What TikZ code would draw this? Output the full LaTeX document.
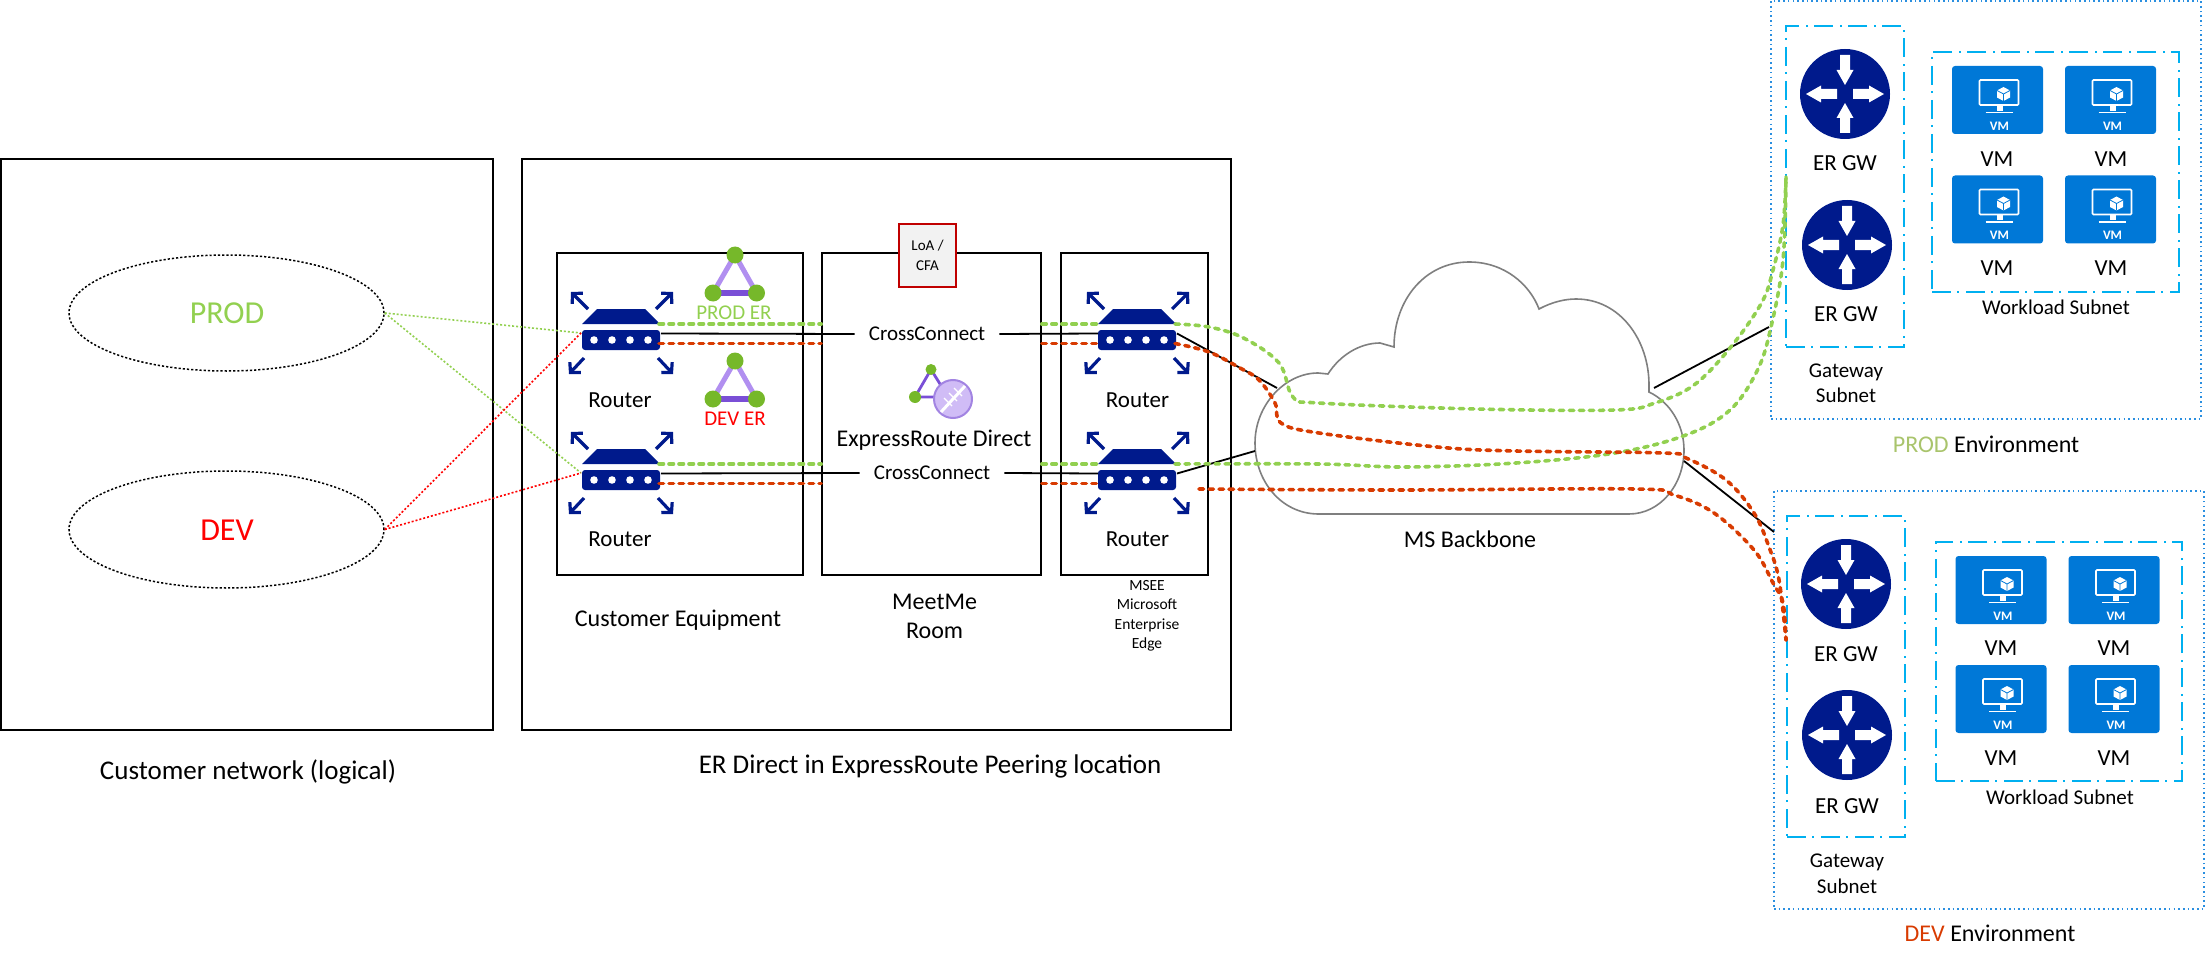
\documentclass[tikz,border=0pt]{standalone}
\usepackage{fontspec}
\setmainfont{Carlito}
\usetikzlibrary{arrows.meta, shapes.geometric}
\definecolor{marino}{HTML}{001A8C}
\definecolor{verde}{HTML}{92D050}
\definecolor{rojo}{HTML}{FF0000}
\definecolor{naranja}{HTML}{D83B01}
\definecolor{oliva}{HTML}{A9C46C}
\definecolor{celeste}{HTML}{00B0F0}
\definecolor{azul}{HTML}{2A8FE0}
\definecolor{azulvm}{HTML}{0078D7}
\definecolor{lila}{HTML}{B18FF0}
\definecolor{violeta}{HTML}{7A4FD6}
\definecolor{brote}{HTML}{76B82A}
\definecolor{nube}{HTML}{7F7F7F}
\definecolor{carmin}{HTML}{C00000}
\tikzset{
	lblhuge/.style={inner sep=0pt, font=\fontsize{27}{32}\selectfont, align=center},
	lblxl/.style={inner sep=0pt, font=\fontsize{24}{29}\selectfont, align=center},
	lbllg/.style={inner sep=0pt, font=\fontsize{23}{29}\selectfont, align=center},
	lblmd/.style={inner sep=0pt, font=\fontsize{21}{25.5}\selectfont, align=center},
	lblxs/.style={inner sep=0pt, font=\fontsize{15.5}{19.5}\selectfont, align=center},
	framebox/.style={draw=black, line width=1.6pt, inner sep=0pt},
	netoval/.style={draw=black, line width=1.5pt, dash pattern=on 2.2pt off 2pt, ellipse, minimum width=315pt, inner sep=0pt},
	envbox/.style={draw=azul, line width=1.6pt, dash pattern=on 1.6pt off 3.1pt, inner sep=0pt},
	subnetbox/.style={draw=celeste, line width=2.2pt, dash pattern=on 19pt off 6pt on 2pt off 7pt, inner sep=0pt},
	blackwire/.style={draw=black, line width=1.8pt},
	grnwire/.style={draw=verde, line width=3.6pt, line cap=round, dash pattern=on 4.5pt off 5.5pt},
	redwire/.style={draw=naranja, line width=3.6pt, line cap=round, dash pattern=on 4.5pt off 5.5pt},
	grnthin/.style={draw=verde, line width=1.6pt, dash pattern=on 2pt off 2pt},
	redthin/.style={draw=rojo, line width=1.6pt, dash pattern=on 2pt off 2pt},
	routerarrow/.style={draw=marino, line width=3.2pt, -{Straight Barb[length=7pt, width=15pt, line width=3.2pt]}},
	routericon/.pic={
		\node[fill=marino, rounded corners=3pt, minimum width=78pt, minimum height=20pt, inner sep=0pt] (-body) at (0,0) {};
		\fill[marino] (-39,-16) -- (-24,-31) -- (24,-31) -- (39,-16) -- cycle;
		\foreach \xdot in {-27,-9,9,27}
			\fill[white] (\xdot,0) circle (3.8pt);
		\draw[routerarrow] (-33,-31) -- (-50,-48);
		\draw[routerarrow] (35,-31) -- (52,-48);
		\draw[routerarrow] (-37,18) -- (-52,34);
		\draw[routerarrow] (37,18) -- (52,34);
		\coordinate (-grnE) at (38,-16);
		\coordinate (-redE) at (38,3.5);
		\coordinate (-wireE) at (40,-6.5);
		\coordinate (-grnW) at (-39,-16);
		\coordinate (-redW) at (-39,3.5);
		\coordinate (-wireW) at (-39,-6.5);
		\coordinate (-tipW) at (-40,-7);
	},
	gwicon/.pic={
		\node[fill=marino, circle, minimum size=90pt, inner sep=0pt] (-disc) at (0,0) {};
		\foreach \ang/\tailr/\tipr in {0/8/39, 180/8/39, 90/39/9, 270/39/9}
			\fill[white, rotate=\ang] (\tailr,-5) -- (24,-5) -- (24,-8.5) -- (\tipr,0) -- (24,8.5) -- (24,5) -- (\tailr,5) -- cycle;
	},
	vmtile/.pic={
		\node[fill=azulvm, rounded corners=3pt, minimum width=91pt, minimum height=68pt, inner sep=0pt] (-tile) at (0,0) {};
		\draw[white, line width=1.6pt, rounded corners=1pt] (-18,-20) rectangle (21,5);
		\fill[white] (-1,5) rectangle (5,11);
		\draw[white, line width=1.6pt] (-12,12.5) -- (15,12.5);
		\fill[white] (6,-13) -- (12.5,-9.5) -- (12.5,-2.5) -- (6,1) -- (-0.5,-2.5) -- (-0.5,-9.5) -- cycle;
		\draw[azulvm, line width=0.8pt] (-0.5,-9.5) -- (6,-6) -- (12.5,-9.5) (6,-6) -- (6,1);
		\node[text=white, inner sep=0pt, font=\bfseries\fontsize{13}{15}\selectfont] at (2,26) {VM};
	},
	ertriangle/.pic={
		\draw[lila, line width=5pt] (-22,38) -- (0,0) -- (21.5,38);
		\draw[violeta, line width=6pt] (-22,38) -- (21.5,38);
		\foreach \xb/\yb in {0/0, -22/38, 21.5/38}
			\fill[brote] (\xb,\yb) circle (8.5pt);
	},
}
\begin{document}
\begin{tikzpicture}[x=1pt, y=-1pt]
	\useasboundingbox (0,0) rectangle (2206,960);
	\node[framebox, minimum width=492pt, minimum height=571pt] (custnet) at (247,444.5) {};
	\node[framebox, minimum width=709pt, minimum height=571pt] (erloc) at (876.5,444.5) {};
	\node[framebox, minimum width=246pt, minimum height=322pt] (custeq) at (680,414) {};
	\node[framebox, minimum width=219pt, minimum height=322pt] (meetme) at (931.5,414) {};
	\node[framebox, minimum width=147pt, minimum height=322pt] (msee) at (1134.5,414) {};
	\node[draw=carmin, fill=black!5, line width=1.6pt, minimum width=57pt, minimum height=63pt, inner sep=0pt, font=\fontsize{15}{20}\selectfont, align=center] (loa) at (927.5,255.5) {LoA /\\CFA};

	\node[netoval, minimum height=116pt] (prodnet) at (226.5,313) {};
	\node[netoval, minimum height=117pt] (devnet) at (226.5,529.5) {};
	\node[inner sep=0pt, text=verde, font=\fontsize{32}{38}\selectfont] (prodlbl) at (227,313) {PROD};
	\node[inner sep=0pt, text=rojo, font=\fontsize{32}{38}\selectfont] (devlbl) at (227,530) {DEV};

	\pic (rtA) at (621,340) {routericon};
	\pic (rtB) at (621,480) {routericon};
	\pic (rtC) at (1137,340) {routericon};
	\pic (rtD) at (1137,480) {routericon};
	\node[lbllg] (rtAlbl) at (620,400) {Router};
	\node[lbllg] (rtBlbl) at (620,539) {Router};
	\node[lbllg] (rtClbl) at (1137.5,400) {Router};
	\node[lbllg] (rtDlbl) at (1137.5,539) {Router};

	\pic at (735,255) {ertriangle};
	\pic at (735,361) {ertriangle};
	\node[lblmd, text=verde] (prodermark) at (734,313) {PROD ER};
	\node[lblmd, text=rojo] (devermark) at (735,419) {DEV ER};

	% icono del puerto directo
	\draw[violeta, line width=2.8pt] (915,397) -- (931,369.5) -- (945,392) (915,397) -- (936,397);
	\fill[brote] (931,369.5) circle (5.5pt) (915,397) circle (6pt);
	\draw[violeta!70, fill=lila!60, line width=2pt] (953,399) circle (19pt);
	\draw[white, line width=3pt] (941,412) -- (965,386);
	\draw[white, line width=1.2pt] (944,398) -- (952,406) (949,393) -- (957,401) (954,388) -- (962,396);

	\node[lblmd, inner xsep=14pt] (ccA) at (927,334) {CrossConnect};
	\node[lblmd, inner xsep=14pt] (ccB) at (932,473) {CrossConnect};
	\node[lblxl] (erdlbl) at (934,440) {ExpressRoute Direct};

	\draw[blackwire] (rtA-wireE) -- (ccA.west);
	\draw[blackwire] (ccA.east) -- (rtC-wireW);
	\draw[blackwire] (rtB-wireE) -- (ccB.west);
	\draw[blackwire] (ccB.east) -- (rtD-wireW);

	\foreach \rtL/\rtR in {rtA/rtC, rtB/rtD} {
		\draw[grnwire] (\rtL-grnE) -- (\rtL-grnE -| meetme.west);
		\draw[grnwire] (\rtR-grnW -| meetme.east) -- (\rtR-grnW);
		\draw[redwire] (\rtL-redE) -- (\rtL-redE -| meetme.west);
		\draw[redwire] (\rtR-redW -| meetme.east) -- (\rtR-redW);
	}

	\draw[grnthin] (prodnet.east) -- (rtA-tipW);
	\draw[grnthin] (prodnet.east) -- (rtB-tipW);
	\draw[redthin] (devnet.east) -- (rtA-tipW);
	\draw[redthin] (devnet.east) -- (rtB-tipW);

	\node[lblxl] (custeqlbl) at (678,620) {Customer Equipment};
	\node[lblxl] (meetlbl) at (934.6,616) {MeetMe\\Room};
	\node[lblxs] (mseelbl) at (1147,616) {MSEE\\Microsoft\\Enterprise\\Edge};
	\node[lblhuge] (custnetlbl) at (248,772) {Customer network (logical)};
	\node[lblhuge] (erloclbl) at (930,766) {ER Direct in ExpressRoute Peering location};

	% nube
	\draw[nube, line width=1.6pt] (1318.6,514) .. controls (1282,514) and (1255,482) .. (1255,443)
		.. controls (1255,405) and (1285,373) .. (1318,373) -- (1328,374)
		.. controls (1340,355) and (1360,343) .. (1380,343) -- (1394,347)
		.. controls (1394,300) and (1425,262) .. (1469,262)
		.. controls (1505,262) and (1530,285) .. (1539,309)
		.. controls (1552,302) and (1565,299) .. (1576,299)
		.. controls (1620,299) and (1649,340) .. (1649,385) -- (1649,392)
		.. controls (1670,402) and (1684,425) .. (1684,450)
		.. controls (1684,485) and (1660,514) .. (1629,514) -- cycle;
	\node[lblxl] (cloudlbl) at (1470,539) {MS Backbone};
	\coordinate (cloudNW) at (1277,388);
	\coordinate (cloudW) at (1255,451);
	\coordinate (cloudNE) at (1654,388);
	\coordinate (cloudE) at (1684,461);
	\coordinate (prodEdge) at (1769,327);
	\coordinate (devEdge) at (1774,532);
	\coordinate (prodEnd) at (1786,177);
	\coordinate (devEnd) at (1786,640);
	\coordinate (redfree) at (1199,489);

	\node[envbox, minimum width=430pt, minimum height=418pt] (prodenv) at (1986,210) {};
	\node[envbox, minimum width=430pt, minimum height=418pt] (devenv) at (1989,700) {};
	\node[subnetbox, minimum width=118pt, minimum height=321pt] (gwprod) at (1845,186.5) {};
	\node[subnetbox, minimum width=118pt, minimum height=321pt] (gwdev) at (1846,676.5) {};
	\node[subnetbox, minimum width=247pt, minimum height=240pt] (wlprod) at (2055.5,172) {};
	\node[subnetbox, minimum width=246pt, minimum height=239pt] (wldev) at (2059,661.5) {};

	\pic (gwA) at (1845,94) {gwicon};
	\pic (gwB) at (1847,245) {gwicon};
	\pic (gwC) at (1846,584) {gwicon};
	\pic (gwD) at (1847,735) {gwicon};
	\node[lbllg] (gwAlbl) at (1845,163) {ER GW};
	\node[lbllg] (gwBlbl) at (1846,314) {ER GW};
	\node[lbllg] (gwClbl) at (1846,654) {ER GW};
	\node[lbllg] (gwDlbl) at (1847,806) {ER GW};
	\node[lblmd] (gwprodlbl) at (1846,383.5) {Gateway\\Subnet};
	\node[lblmd] (gwdevlbl) at (1847,874) {Gateway\\Subnet};

	\foreach \vmx/\vmy [count=\vmi] in {1997.5/100, 2110.5/100, 1997.5/209.5, 2110.5/209.5, 2001/590, 2114/590, 2001/699, 2114/699}
		\pic (vm\vmi) at (\vmx,\vmy) {vmtile};
	\foreach \vmx/\vmy in {1997/159, 2111/159, 1997/268, 2111/268, 2001/648, 2114/648, 2001/758, 2114/758}
		\node[lbllg] at (\vmx,\vmy) {VM};
	\node[lblmd] (wlprodlbl) at (2056,307) {Workload Subnet};
	\node[lblmd] (wldevlbl) at (2060,797) {Workload Subnet};
	\node[lblxl] (prodenvlbl) at (1986,444) {{\color{oliva}PROD} Environment};
	\node[lblxl] (devenvlbl) at (1990,933) {{\color{naranja}DEV} Environment};

	\draw[blackwire] (rtC-wireE) -- (cloudNW);
	\draw[blackwire] (rtD-wireE) -- (cloudW);
	\draw[blackwire] (cloudNE) -- (prodEdge);
	\draw[blackwire] (cloudE) -- (devEdge);

	\draw[grnwire] plot[smooth, tension=0.6] coordinates {(rtC-grnE) (1209,327) (1243.5,338) (1279,363) (1293,397) (1318.6,403) (1477,409) (1615,410) (1655,403) (1694,385) (1730,348) (1761.5,303) (1773,270) (1783,225) (prodEnd)};
	\draw[grnwire] plot[smooth, tension=0.6] coordinates {(rtD-grnE) (1319,464) (1405.6,467) (1516,463) (1615,453) (1686,435) (1730,410) (1757.5,370) (1771,327) (1783,260) (prodEnd)};
	\draw[redwire] plot[smooth, tension=0.6] coordinates {(rtC-redE) (1209,352) (1240,368) (1259,380) (1275,403) (1281,423) (1319,433) (1437,447) (1516,451) (1663,453) (1686,458) (1726,480) (1754,513) (1769,547) (1779,580) (devEnd)};
	\draw[redwire] plot[smooth, tension=0.6] coordinates {(redfree) (1398,490) (1635,489) (1674,495) (1714,513) (1754,550) (1773,583) (1783,603) (devEnd)};
\end{tikzpicture}
\end{document}
